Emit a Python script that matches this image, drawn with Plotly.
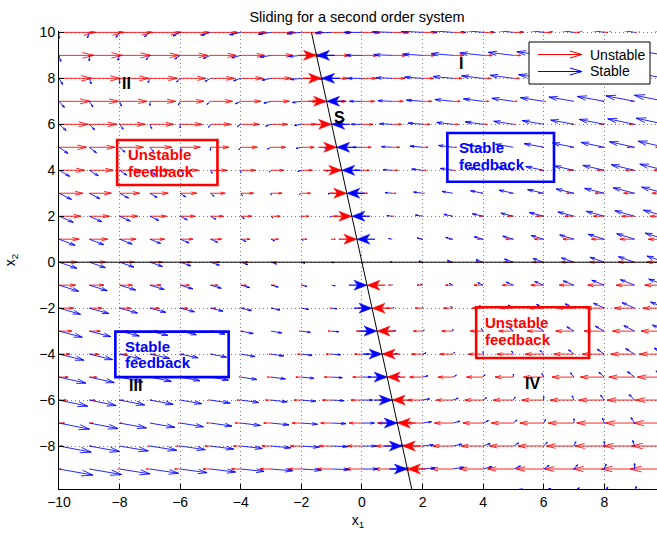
import math
import plotly.graph_objects as go

# ---------------- data ----------------
# quiver grid nodes (x1 horizontal, x2 vertical)
grid_x1 = [-10, -9, -8, -7, -6, -5, -4, -3, -2, -1, 0, 1, 2, 3, 4, 5, 6, 7, 8, 9, 10]
grid_x2 = [-10, -9, -8, -7, -6, -5, -4, -3, -2, -1, 0, 1, 2, 3, 4, 5, 6, 7, 8, 9, 10]

# linear vector fields (rows: d/dt of x1, x2 ; columns: coefficient of x1, x2)
unstable_field = [[-1.0, 1.0], [0.0, 0.0]]
stable_field = [[-1.0, -1.0], [0.45, 0.0]]

# sliding line S : 6*x1 + x2 = 0
s_slope = 6.0
s_span_x2 = [-10.0, 10.0]
zero_line_x1 = [-10.0, 10.0]

# rows where the two fields are shown meeting on S
s_arrow_rows = [9, 8, 7, 6, 5, 4, 3, 2, 1, -1, -2, -3, -4, -5, -6, -7, -8, -9]

x_ticks = [-10, -8, -6, -4, -2, 0, 2, 4, 6, 8]
y_ticks = [-8, -6, -4, -2, 0, 2, 4, 6, 8, 10]

legend_names = ["Unstable", "Stable"]
title_text = "Sliding for a second order system"

RED = "#ff0000"
BLUE = "#0000ff"
FONT = "Liberation Sans, Arial, Helvetica, sans-serif"

W, H = 657, 534
ML, MR, MT, MB = 59, 0, 31, 45
pw, ph = W - ML - MR, H - MT - MB
XR = [-10, 9.74]
YR = [-9.87, 10.06]
SX = pw / (XR[1] - XR[0])   # px per x unit
SY = ph / (YR[1] - YR[0])   # px per y unit


def field_vectors(field):
    pts = []
    for x2 in grid_x2:
        for x1 in grid_x1:
            u = field[0][0] * x1 + field[0][1] * x2
            v = field[1][0] * x1 + field[1][1] * x2
            pts.append((x1, x2, u, v))
    n = len(grid_x1)
    m = len(grid_x2)
    delx = (max(grid_x1) - min(grid_x1)) / n
    dely = (max(grid_x2) - min(grid_x2)) / m
    d2 = delx ** 2 + dely ** 2
    maxlen = max(math.sqrt((u * u + v * v) / d2) for _, _, u, v in pts)
    sc = 0.9 / maxlen
    return [(x, y, u * sc, v * sc) for x, y, u, v in pts]


def quiver_xy(vecs, alpha=0.33, beta=0.33):
    X, Y = [], []
    eps = 1e-12
    for x, y, u, v in vecs:
        X += [x, x + u, None]
        Y += [y, y + v, None]
        X += [x + u - alpha * (u + beta * (v + eps)), x + u,
              x + u - alpha * (u - beta * (v + eps)), None]
        Y += [y + v - alpha * (v - beta * (u + eps)), y + v,
              y + v - alpha * (v + beta * (u + eps)), None]
    return X, Y


fig = go.Figure()

rx, ry = quiver_xy(field_vectors(unstable_field))
bx, by = quiver_xy(field_vectors(stable_field))
fig.add_trace(go.Scatter(x=rx, y=ry, mode="lines", name=legend_names[0],
                         line=dict(color="rgba(255,0,0,0.85)", width=1), hoverinfo="skip"))
fig.add_trace(go.Scatter(x=bx, y=by, mode="lines", name=legend_names[1],
                         line=dict(color="rgba(0,0,255,0.85)", width=1), hoverinfo="skip"))

# arrows pointing onto S from both sides (shaft + notched filled head)
L = 0.6
HL, HW, HN = 13.0, 5.0, 3.5   # head length, half width, notch (px)
shafts = {RED: ([], []), BLUE: ([], [])}
heads = {RED: ([], []), BLUE: ([], [])}
for r in s_arrow_rows:
    xs = -r / s_slope
    if r > 0:
        left_col, right_col = RED, BLUE
    else:
        left_col, right_col = BLUE, RED
    for col, d in ((left_col, 1.0), (right_col, -1.0)):
        tail = xs - d * L
        sx, sy = shafts[col]
        sx += [tail, xs - d * (HL - HN) / SX, None]
        sy += [r, r, None]
        hx, hy = heads[col]
        hx += [xs, xs - d * HL / SX, xs - d * (HL - HN) / SX, xs - d * HL / SX, xs, None]
        hy += [r, r + HW / SY, r, r - HW / SY, r, None]
for col in (RED, BLUE):
    fig.add_trace(go.Scatter(x=shafts[col][0], y=shafts[col][1], mode="lines",
                             line=dict(color=col, width=1.2), hoverinfo="skip"))
    fig.add_trace(go.Scatter(x=heads[col][0], y=heads[col][1], mode="lines", fill="toself",
                             fillcolor=col, line=dict(color=col, width=0.5), hoverinfo="skip"))

# x2 = 0 line and sliding line S
fig.add_trace(go.Scatter(x=zero_line_x1, y=[0, 0], mode="lines",
                         line=dict(color="black", width=1), hoverinfo="skip"))
fig.add_trace(go.Scatter(x=[-v / s_slope for v in s_span_x2], y=s_span_x2, mode="lines",
                         line=dict(color="black", width=1), hoverinfo="skip"))

annotations = []
# region labels
for t, x, y in [("II", -7.78, 7.79), ("I", 3.28, 8.66), ("S", -0.74, 6.29),
                ("III", -7.48, -5.38), ("IV", 5.64, -5.27)]:
    annotations.append(dict(x=x, y=y, xref="x", yref="y", text=t, showarrow=False,
                            font=dict(family=FONT, size=16, color="black", weight="bold")))

# boxed feedback labels
boxes = [
    ("Unstable", "feedback", RED, (-8.08, 3.36, -4.77, 5.32), -7.78, 4.67, 3.93),
    ("Stable", "feedback", BLUE, (2.82, 3.50, 6.34, 5.62), 3.13, 4.99, 4.23),
    ("Stable", "feedback", BLUE, (-8.14, -5.00, -4.40, -3.02), -7.89, -3.67, -4.37),
    ("Unstable", "feedback", RED, (3.77, -4.17, 7.50, -1.96), 4.01, -2.61, -3.38),
]
shapes = []
for l1, l2, col, (x0, y0, x1, y1), tx, ty1, ty2 in boxes:
    shapes.append(dict(type="rect", xref="x", yref="y", x0=x0, y0=y0, x1=x1, y1=y1,
                       line=dict(color=col, width=2.6), fillcolor="rgba(0,0,0,0)"))
    for txt, ty in ((l1, ty1), (l2, ty2)):
        annotations.append(dict(x=tx, y=ty, xref="x", yref="y", text=txt, showarrow=False,
                                xanchor="left", yanchor="middle",
                                font=dict(family=FONT, size=15, color=col, weight="bold")))


def px(xp):
    return (xp - ML) / pw


def py(yp):
    return (H - MB - yp) / ph


# legend (drawn manually, paper coords)
shapes.append(dict(type="rect", xref="paper", yref="paper", x0=px(529), x1=px(650),
                   y0=py(84), y1=py(42), line=dict(color="black", width=1), fillcolor="white"))
for name, col, yy in ((legend_names[0], RED, 54.5), (legend_names[1], BLUE, 71.5)):
    path = (f"M {px(538)},{py(yy)} L {px(582)},{py(yy)} "
            f"M {px(570)},{py(yy - 3.5)} L {px(582)},{py(yy)} L {px(570)},{py(yy + 3.5)}")
    shapes.append(dict(type="path", xref="paper", yref="paper", path=path,
                       line=dict(color=col, width=1)))
    annotations.append(dict(x=px(588), y=py(yy), xref="paper", yref="paper", text=name,
                            showarrow=False, xanchor="left", yanchor="middle",
                            font=dict(family=FONT, size=14, color="black")))

fig.update_layout(
    width=W, height=H, autosize=False,
    margin=dict(l=ML, r=MR, t=MT, b=MB, pad=0),
    paper_bgcolor="white", plot_bgcolor="white",
    showlegend=False,
    title=dict(text=title_text, x=357 / W, y=1 - 17 / H, xref="container", yref="container",
               xanchor="center", yanchor="middle",
               font=dict(family=FONT, size=14.5, color="black")),
    shapes=shapes, annotations=annotations,
)
axis_common = dict(showline=True, linecolor="black", linewidth=1, mirror=False,
                   ticks="inside", ticklen=5, tickcolor="black", tickwidth=1,
                   showgrid=True, gridcolor="#7f7f7f", gridwidth=1, griddash="1px,3px",
                   zeroline=False, tickfont=dict(family=FONT, size=14, color="black"))
fig.update_xaxes(range=XR, tickvals=x_ticks,
                 title=dict(text="x<sub>1</sub>", standoff=6,
                            font=dict(family=FONT, size=14, color="black")),
                 **axis_common)
fig.update_yaxes(range=YR, tickvals=y_ticks,
                 title=dict(text="x<sub>2</sub>", standoff=20,
                            font=dict(family=FONT, size=14, color="black")),
                 **axis_common)

fig.write_html("out.html")
